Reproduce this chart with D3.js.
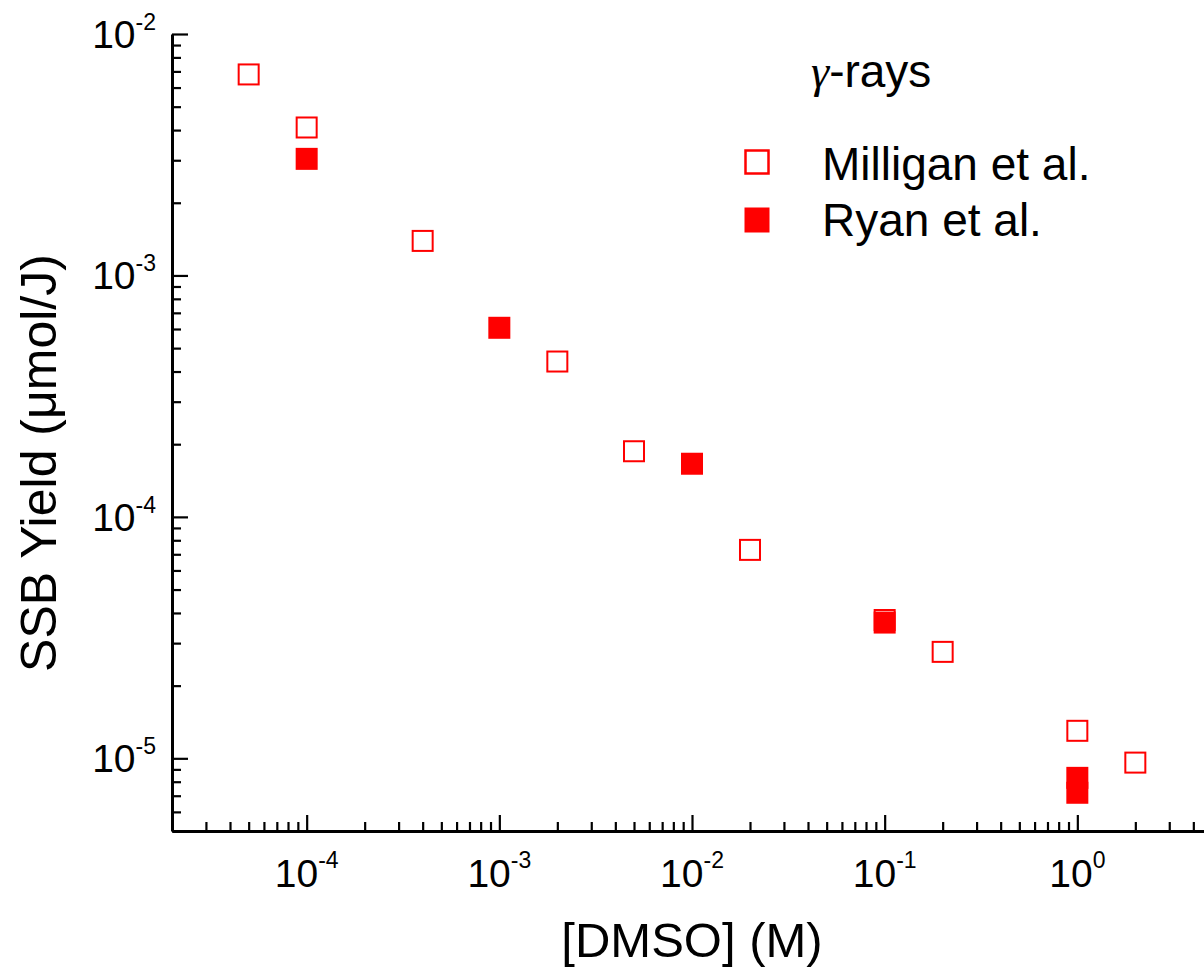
<!DOCTYPE html>
<html>
<head>
<meta charset="utf-8">
<script src="https://cdn.jsdelivr.net/npm/d3@7"></script>
<style>
  body { margin: 0; background: #fff; }
  text { font-family: "Liberation Sans", Arial, sans-serif; fill: #000; }
</style>
</head>
<body>
<div id="chart"></div>
<script>
// Milligan et al. (open squares)
var milliganX = [5e-5, 1e-4, 4e-4, 2e-3, 5e-3, 2e-2, 1e-1, 2e-1, 1, 2];
var milliganY = [6.8e-3, 4.1e-3, 1.39e-3, 4.4e-4, 1.87e-4, 7.3e-5, 3.74e-5, 2.76e-5, 1.3e-5, 9.6e-6];
// Ryan et al. (filled squares)
var ryanX = [1e-4, 1e-3, 1e-2, 1e-1, 1, 1];
var ryanY = [3.04e-3, 6.07e-4, 1.66e-4, 3.65e-5, 8.3e-6, 7.2e-6];

// major tick exponents
var xExps = [-4, -3, -2, -1, 0];
var yExps = [-5, -4, -3, -2];

var W = 1204, H = 972;
var svg = d3.select("#chart").append("svg")
    .attr("width", W)
    .attr("height", H);

var x = d3.scaleLog().domain([2e-5, 5]).range([172, 1212]);
var y = d3.scaleLog().domain([5e-6, 1e-2]).range([831, 34]);

function isMajor(d) {
    var l = Math.log10(d);
    return Math.abs(l - Math.round(l)) < 1e-9;
}

// bottom axis, ticks pointing inward
var xAxis = svg.append("g")
    .attr("transform", "translate(0," + y.range()[0] + ")")
    .call(d3.axisBottom(x).tickValues(x.ticks()).tickSizeOuter(0).tickFormat(""));
xAxis.selectAll(".tick line")
    .attr("y2", function(d) { return isMajor(d) ? -16 : -9; })
    .attr("stroke-width", 2.2);
xAxis.select(".domain").attr("stroke-width", 3);

// left axis
var yAxis = svg.append("g")
    .attr("transform", "translate(" + x.range()[0] + ",0)")
    .call(d3.axisLeft(y).tickValues(y.ticks()).tickSizeOuter(0).tickFormat(""));
yAxis.selectAll(".tick line")
    .attr("x2", function(d) { return isMajor(d) ? 16 : 9; })
    .attr("stroke-width", 2.2);
yAxis.select(".domain").attr("stroke-width", 3);

// tick labels 10^n
xExps.forEach(function(e) {
    var t = svg.append("text")
        .attr("x", x(Math.pow(10, e)))
        .attr("y", 887)
        .attr("text-anchor", "middle")
        .style("font-size", "39px");
    t.append("tspan").text("10");
    t.append("tspan").attr("dy", -19).style("font-size", "23px").text(e);
});
yExps.forEach(function(e) {
    var t = svg.append("text")
        .attr("x", 156)
        .attr("y", y(Math.pow(10, e)) + 14)
        .attr("text-anchor", "end")
        .style("font-size", "39px");
    t.append("tspan").text("10");
    t.append("tspan").attr("dy", -18).style("font-size", "23px").text(e);
});

// axis titles
svg.append("text")
    .attr("x", 692)
    .attr("y", 957)
    .attr("text-anchor", "middle")
    .style("font-size", "49px")
    .text("[DMSO] (M)");

svg.append("text")
    .attr("transform", "translate(56,463) rotate(-90)")
    .attr("text-anchor", "middle")
    .style("font-size", "50px")
    .text("SSB Yield (\u03bcmol/J)");

var s = 22;
// open squares
svg.append("g").selectAll("rect")
    .data(d3.zip(milliganX, milliganY))
    .enter().append("rect")
    .attr("x", function(d) { return x(d[0]) - (s - 2) / 2; })
    .attr("y", function(d) { return y(d[1]) - (s - 2) / 2; })
    .attr("width", s - 2)
    .attr("height", s - 2)
    .attr("fill", "none")
    .attr("stroke", "red")
    .attr("stroke-width", 2);

// filled squares
svg.append("g").selectAll("rect")
    .data(d3.zip(ryanX, ryanY))
    .enter().append("rect")
    .attr("x", function(d) { return x(d[0]) - s / 2; })
    .attr("y", function(d) { return y(d[1]) - s / 2; })
    .attr("width", s)
    .attr("height", s)
    .attr("fill", "red");

// legend
var g = svg.append("text")
    .attr("x", 811)
    .attr("y", 87)
    .style("font-size", "46px");
g.append("tspan").style("font-family", "'Liberation Serif', serif").style("font-style", "italic").text("\u03b3");
g.append("tspan").text("-rays");

var ls = 25;
svg.append("rect")
    .attr("x", 757 - (ls - 2) / 2).attr("y", 162 - (ls - 2) / 2)
    .attr("width", ls - 2).attr("height", ls - 2)
    .attr("fill", "none").attr("stroke", "red").attr("stroke-width", 2.5);
svg.append("text")
    .attr("x", 822).attr("y", 180)
    .style("font-size", "46px")
    .text("Milligan et al.");

svg.append("rect")
    .attr("x", 757 - ls / 2).attr("y", 220 - ls / 2)
    .attr("width", ls).attr("height", ls)
    .attr("fill", "red");
svg.append("text")
    .attr("x", 822).attr("y", 236)
    .style("font-size", "46px")
    .text("Ryan et al.");
</script>
</body>
</html>
